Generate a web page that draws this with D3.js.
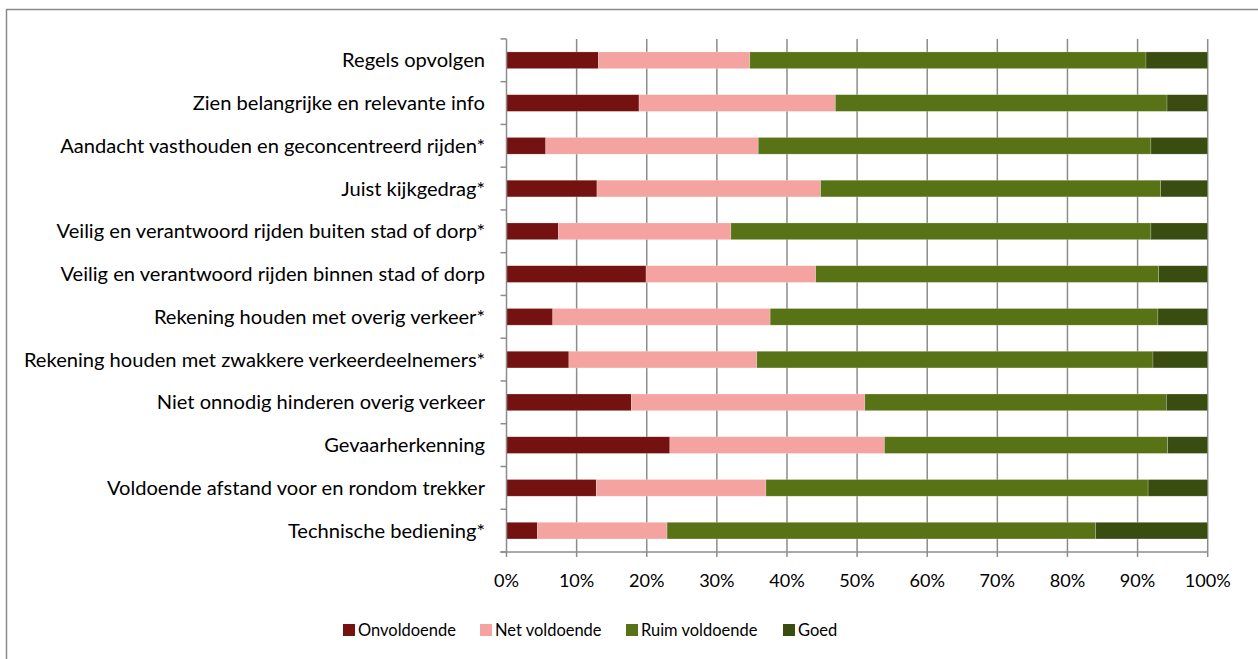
<!DOCTYPE html>
<html>
<head>
<meta charset="utf-8">
<script src="https://cdn.jsdelivr.net/npm/d3@7"></script>
<style>
  html, body { margin: 0; padding: 0; background: #fff; }
  svg { display: block; }
  text { font-family: Lato, "Open Sans", sans-serif; fill: #000; }
</style>
</head>
<body>
<svg id="chart" width="1258" height="659"></svg>
<script>
const categories = [
  "Regels opvolgen",
  "Zien belangrijke en relevante info",
  "Aandacht vasthouden en geconcentreerd rijden*",
  "Juist kijkgedrag*",
  "Veilig en verantwoord rijden buiten stad of dorp*",
  "Veilig en verantwoord rijden binnen stad of dorp",
  "Rekening houden met overig verkeer*",
  "Rekening houden met zwakkere verkeerdeelnemers*",
  "Niet onnodig hinderen overig verkeer",
  "Gevaarherkenning",
  "Voldoende afstand voor en rondom trekker",
  "Technische bediening*"
];
const seriesNames = ["Onvoldoende", "Net voldoende", "Ruim voldoende", "Goed"];
const onvoldoende   = [13.1, 18.9,  5.6, 12.9,  7.4, 19.9,  6.6,  8.9, 17.8, 23.3, 12.8,  4.4];
const netVoldoende  = [21.6, 28.0, 30.3, 31.9, 24.6, 24.2, 31.0, 26.8, 33.3, 30.6, 24.2, 18.5];
const ruimVoldoende = [56.5, 47.3, 56.0, 48.5, 59.9, 48.9, 55.3, 56.5, 43.0, 40.4, 54.5, 61.1];
const goed          = [ 8.8,  5.8,  8.1,  6.7,  8.1,  7.0,  7.1,  7.8,  5.9,  5.7,  8.5, 16.0];
const xTicks = [0, 10, 20, 30, 40, 50, 60, 70, 80, 90, 100];
const colors = ["#731210", "#F4A3A0", "#587316", "#3A4D10"];

const svg = d3.select("#chart");

svg.append("rect").attr("x", 6.5).attr("y", 9.5).attr("width", 1270).attr("height", 680)
  .attr("fill", "none").attr("stroke", "#8a8a8a").attr("stroke-width", 1.5);

const pLeft = 506.5, pRight = 1207.7, pTop = 38.9, pBottom = 552;
const x = d3.scaleLinear().domain([0, 100]).range([pLeft, pRight]);
const y = d3.scaleBand().domain(categories).range([pTop, pBottom]).paddingInner(0.61).paddingOuter(0.305);

const rows = categories.map((c, i) => ({
  cat: c,
  "Onvoldoende": onvoldoende[i],
  "Net voldoende": netVoldoende[i],
  "Ruim voldoende": ruimVoldoende[i],
  "Goed": goed[i]
}));
const stack = d3.stack().keys(seriesNames)(rows);

const g = svg.append("g");
g.selectAll("line.grid").data(xTicks.filter(d => d > 0)).join("line")
  .attr("x1", d => x(d)).attr("x2", d => x(d))
  .attr("y1", pTop).attr("y2", pBottom + 5)
  .attr("stroke", "#8c8c8c").attr("stroke-width", 1.5);

stack.forEach((s, si) => {
  g.append("g").selectAll("rect").data(s).join("rect")
    .attr("x", d => x(d[0]))
    .attr("width", d => x(d[1]) - x(d[0]))
    .attr("y", d => y(d.data.cat))
    .attr("height", y.bandwidth())
    .attr("fill", colors[si])
    .attr("stroke", "rgba(255,255,255,0.35)")
    .attr("stroke-width", 0.6);
});

g.append("line").attr("x1", pLeft).attr("x2", pLeft).attr("y1", pTop).attr("y2", pBottom)
  .attr("stroke", "#8c8c8c").attr("stroke-width", 1.5);
g.append("line").attr("x1", pLeft - 6).attr("x2", pRight).attr("y1", pBottom).attr("y2", pBottom)
  .attr("stroke", "#8c8c8c").attr("stroke-width", 1.5);
g.append("line").attr("x1", pLeft).attr("x2", pLeft).attr("y1", pBottom).attr("y2", pBottom + 5)
  .attr("stroke", "#8c8c8c").attr("stroke-width", 1.5);

const step = y.step();
const bounds = d3.range(categories.length + 1).map(i => pTop + i * step);
g.selectAll("line.yt").data(bounds).join("line")
  .attr("x1", pLeft - 6).attr("x2", pLeft)
  .attr("y1", d => d).attr("y2", d => d)
  .attr("stroke", "#8c8c8c").attr("stroke-width", 1.5);

// fit font sizes to the reference text widths
function fitSize(str, target) {
  const probe = svg.append("text").style("font-size", "16px").text(str);
  const w = probe.node().getComputedTextLength();
  probe.remove();
  return Math.min(21, 16 * target / w);
}
const fsY = fitSize(categories[2], 425);
const fsX = fitSize("100%", 46);
const fsL = fitSize("Onvoldoende", 98);

g.selectAll("text.ylab").data(categories).join("text")
  .attr("x", 485).attr("y", d => y(d) + y.bandwidth() / 2)
  .attr("dy", "0.35em").attr("text-anchor", "end")
  .style("font-size", fsY + "px")
  .text(d => d);

g.selectAll("text.xlab").data(xTicks).join("text")
  .attr("x", d => x(d)).attr("y", 581)
  .attr("dy", "0.35em").attr("text-anchor", "middle")
  .style("font-size", fsX + "px")
  .text(d => d + "%");

const legendX = [343, 480, 626, 783];
const leg = svg.append("g");
seriesNames.forEach((n, i) => {
  leg.append("rect").attr("x", legendX[i]).attr("y", 624).attr("width", 12).attr("height", 12)
    .attr("fill", colors[i]);
  leg.append("text").attr("x", legendX[i] + 15).attr("y", 630).attr("dy", "0.35em")
    .style("font-size", fsL + "px").text(n);
});
</script>
</body>
</html>
